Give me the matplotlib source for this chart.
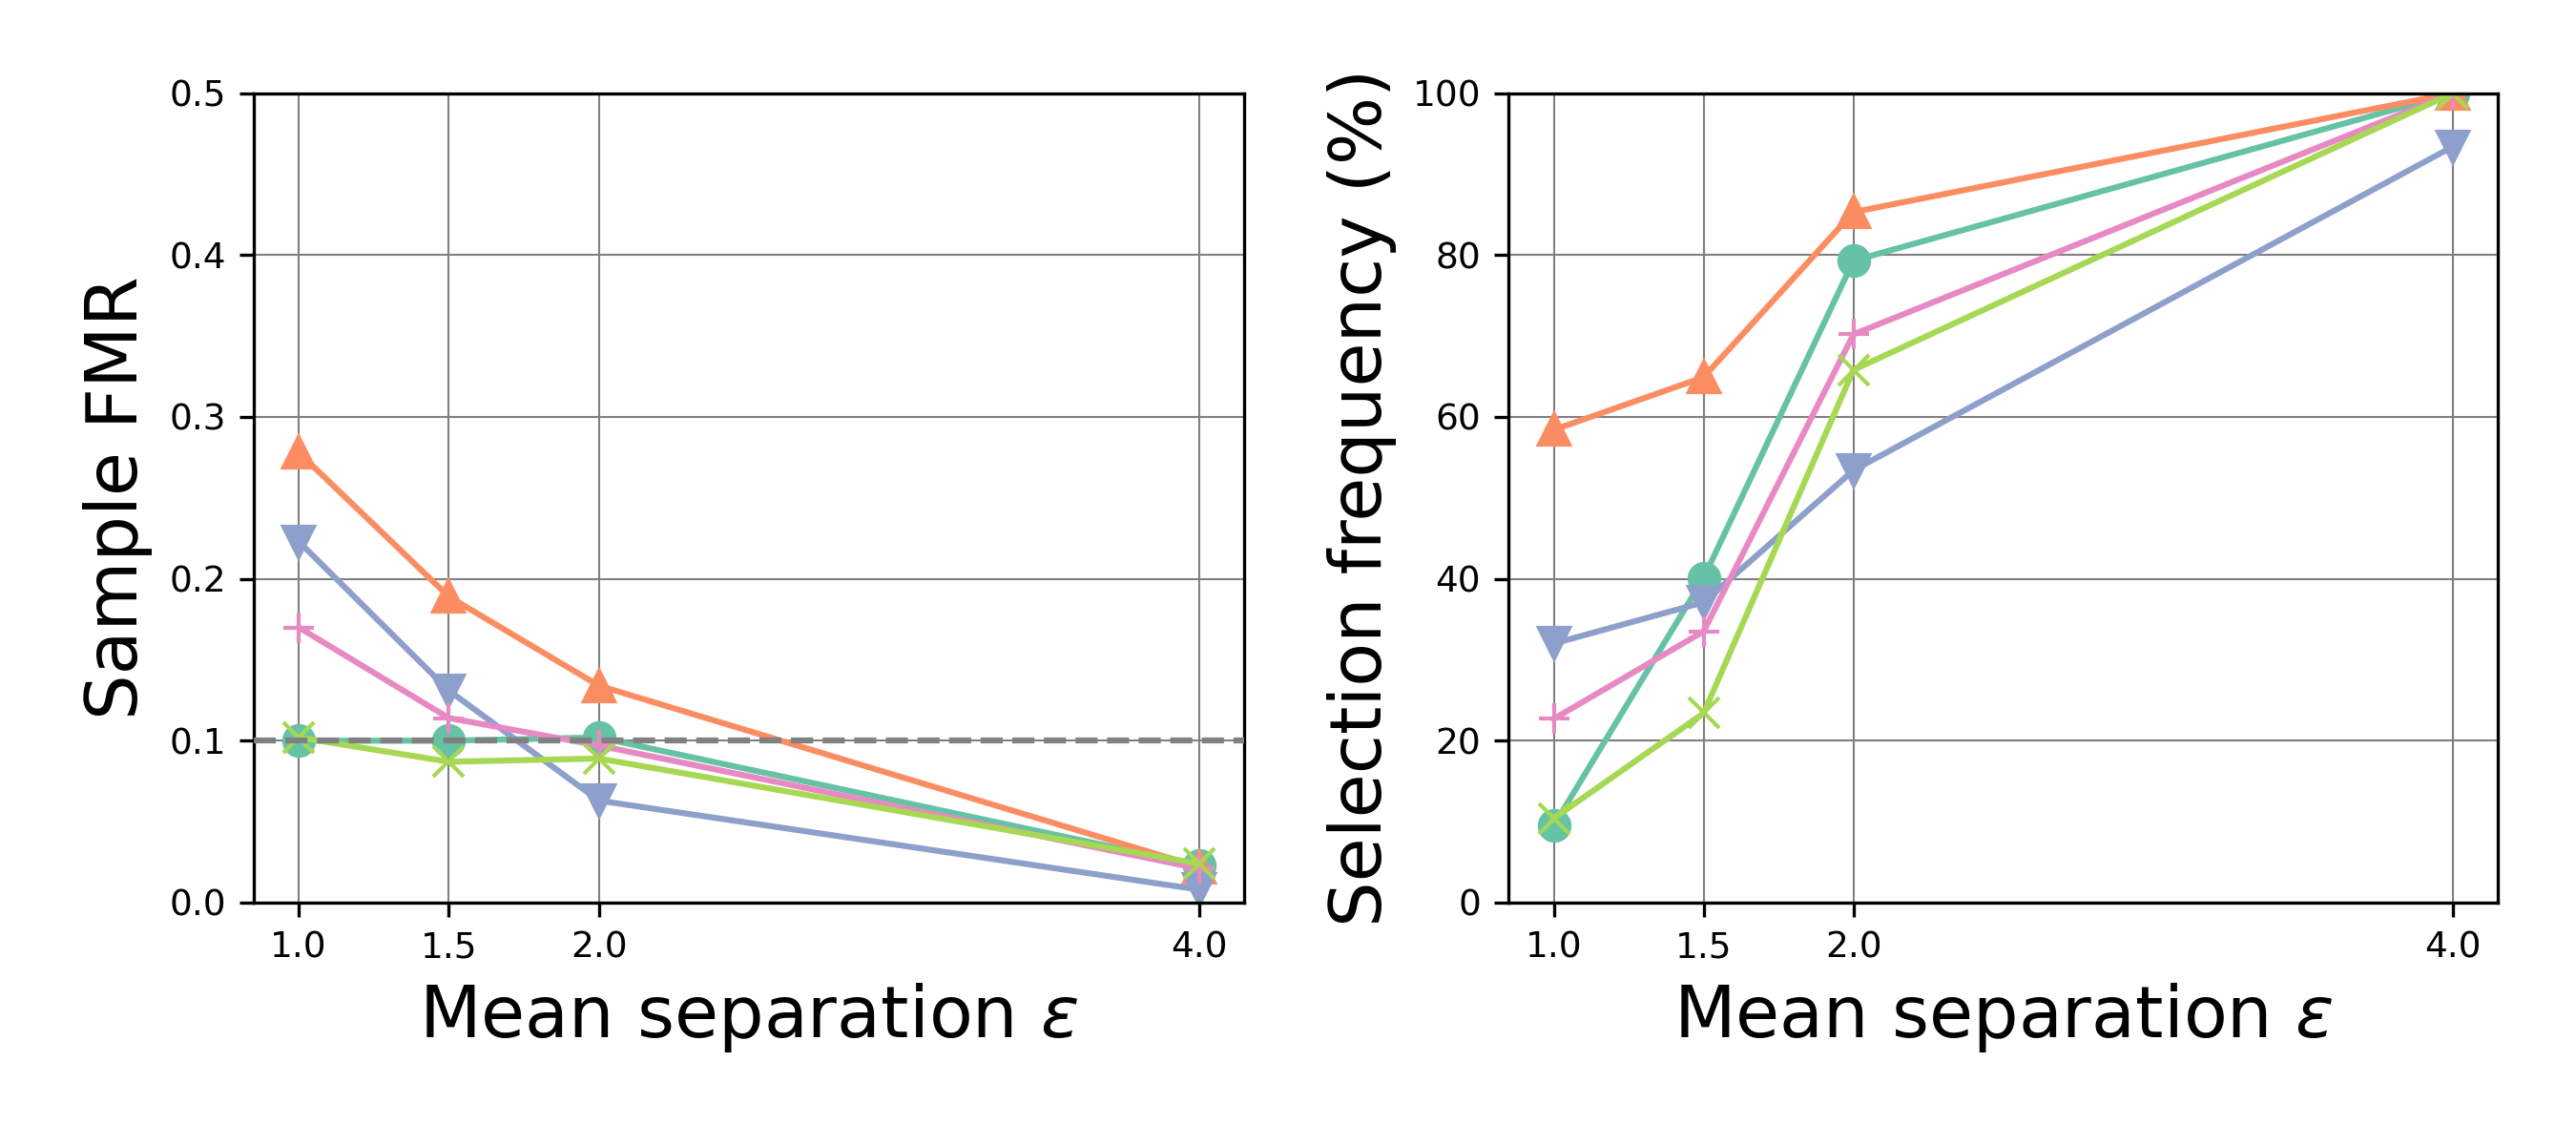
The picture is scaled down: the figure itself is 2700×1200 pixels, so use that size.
"""Sample FMR and selection frequency vs mean separation."""
import matplotlib
matplotlib.use('Agg')
import matplotlib.pyplot as plt

EPS = [1.0, 1.5, 2.0, 4.0]
XTICK_LABELS = ['1.0', '1.5', '2.0', '4.0']

# Set2 order: teal o, orange ^, blue v, pink +, green x
COLORS = ['#66c2a5', '#fc8d62', '#8da0cb', '#e78ac3', '#a6d854']
MARKERS = ['o', '^', 'v', '+', 'x']

FMR = [
    [0.100, 0.100, 0.102, 0.023],
    [0.278, 0.189, 0.134, 0.022],
    [0.223, 0.131, 0.063, 0.008],
    [0.170, 0.114, 0.097, 0.021],
    [0.102, 0.087, 0.089, 0.024],
]
FMR_TARGET = 0.1

SEL_FREQ = [
    [9.5, 40.1, 79.3, 100.0],
    [58.4, 64.9, 85.3, 100.0],
    [32.0, 37.1, 53.4, 93.4],
    [22.7, 33.5, 70.2, 100.0],
    [10.4, 23.4, 65.8, 100.0],
]


def draw(ax, series, ylim, ylabel):
    for vals, c, m in zip(series, COLORS, MARKERS):
        ax.plot(EPS, vals, color=c, marker=m, markersize=7.5, linewidth=1.5)
    ax.set_ylim(*ylim)
    ax.set_xticks(EPS)
    ax.set_xticklabels(XTICK_LABELS)
    ax.grid(True, color='gray', linewidth=0.5)
    ax.set_axisbelow(True)
    ax.tick_params(labelsize=9)
    ax.set_xlabel(r'Mean separation $\varepsilon$', fontsize=18)
    ax.set_ylabel(ylabel, fontsize=18)


def main():
    fig = plt.figure(figsize=(9, 4), dpi=300)
    ax1 = fig.add_axes([0.0985, 0.2117, 0.3845, 0.707])
    ax2 = fig.add_axes([0.5857, 0.2117, 0.384, 0.707])

    draw(ax1, FMR, (0, 0.5), 'Sample FMR')
    ax1.axhline(FMR_TARGET, color='gray', linestyle='--', linewidth=1.5, zorder=3)

    draw(ax2, SEL_FREQ, (0, 100), 'Selection frequency (%)')

    fig.savefig('out.png', dpi=300)


if __name__ == '__main__':
    main()
